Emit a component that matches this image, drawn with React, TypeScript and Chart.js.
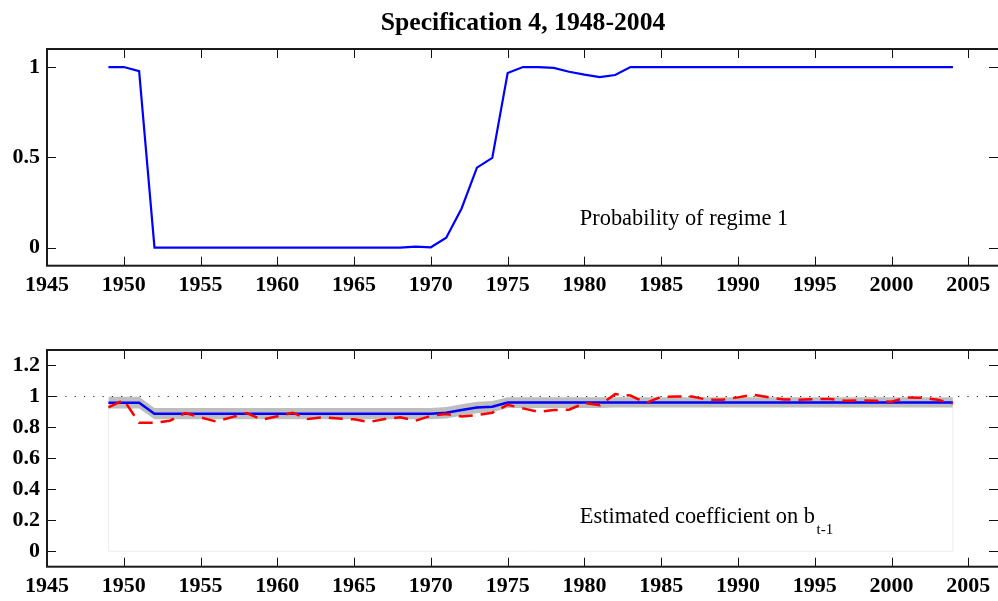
import React, { useEffect, useRef } from 'react';
import { Chart, registerables } from 'chart.js';

Chart.register(...registerables);

// ---------------- data ----------------
const years = [
  1949, 1950, 1951, 1952, 1953, 1954, 1955, 1956, 1957, 1958,
  1959, 1960, 1961, 1962, 1963, 1964, 1965, 1966, 1967, 1968,
  1969, 1970, 1971, 1972, 1973, 1974, 1975, 1976, 1977, 1978,
  1979, 1980, 1981, 1982, 1983, 1984, 1985, 1986, 1987, 1988,
  1989, 1990, 1991, 1992, 1993, 1994, 1995, 1996, 1997, 1998,
  1999, 2000, 2001, 2002, 2003, 2004,
];

const probRegime1 = [
  1.0, 1.0, 0.977, 0.0, 0.0, 0.0, 0.0, 0.0, 0.0, 0.0,
  0.0, 0.0, 0.0, 0.0, 0.0, 0.0, 0.0, 0.0, 0.0, 0.0,
  0.006, 0.002, 0.055, 0.217, 0.443, 0.497, 0.967, 1.0, 1.0, 0.995,
  0.974, 0.958, 0.944, 0.956, 1.0, 1.0, 1.0, 1.0, 1.0, 1.0,
  1.0, 1.0, 1.0, 1.0, 1.0, 1.0, 1.0, 1.0, 1.0, 1.0,
  1.0, 1.0, 1.0, 1.0, 1.0, 1.0,
];

const coefEstimate = [
  0.96, 0.96, 0.96, 0.888, 0.888, 0.888, 0.888, 0.888, 0.888, 0.888,
  0.888, 0.888, 0.888, 0.888, 0.888, 0.888, 0.888, 0.888, 0.888, 0.888,
  0.888, 0.888, 0.895, 0.912, 0.929, 0.934, 0.961, 0.961, 0.961, 0.961,
  0.961, 0.961, 0.961, 0.961, 0.961, 0.961, 0.961, 0.961, 0.961, 0.961,
  0.961, 0.961, 0.961, 0.961, 0.961, 0.961, 0.961, 0.961, 0.961, 0.961,
  0.961, 0.961, 0.961, 0.961, 0.961, 0.961,
];

const coefUpper = [
  0.998, 0.998, 0.998, 0.925, 0.925, 0.925, 0.925, 0.925, 0.925, 0.925,
  0.925, 0.925, 0.925, 0.925, 0.925, 0.925, 0.925, 0.925, 0.925, 0.925,
  0.925, 0.925, 0.932, 0.949, 0.966, 0.970, 0.995, 0.995, 0.995, 0.995,
  0.995, 0.995, 0.995, 0.995, 0.995, 0.995, 0.995, 0.995, 0.995, 0.995,
  0.995, 0.995, 0.995, 0.995, 0.995, 0.995, 0.995, 0.995, 0.995, 0.995,
  0.995, 0.995, 0.995, 0.995, 0.995, 0.995,
];

const coefLower = [
  0.922, 0.922, 0.922, 0.852, 0.852, 0.852, 0.852, 0.852, 0.852, 0.852,
  0.852, 0.852, 0.852, 0.852, 0.852, 0.852, 0.852, 0.852, 0.852, 0.852,
  0.852, 0.852, 0.858, 0.875, 0.892, 0.898, 0.926, 0.926, 0.926, 0.926,
  0.926, 0.926, 0.926, 0.928, 0.928, 0.928, 0.928, 0.928, 0.928, 0.928,
  0.928, 0.928, 0.928, 0.928, 0.928, 0.928, 0.928, 0.928, 0.928, 0.928,
  0.928, 0.928, 0.928, 0.928, 0.928, 0.928,
];

const coefRolling = [
  0.929, 0.977, 0.83, 0.83, 0.843, 0.893, 0.865, 0.838, 0.865, 0.893,
  0.85, 0.872, 0.895, 0.854, 0.865, 0.858, 0.852, 0.835, 0.854, 0.865,
  0.843, 0.875, 0.886, 0.871, 0.88, 0.895, 0.946, 0.923, 0.901, 0.912,
  0.914, 0.957, 0.944, 1.015, 1.006, 0.957, 0.998, 0.999, 1.0, 0.979,
  0.979, 0.994, 1.011, 0.994, 0.981, 0.979, 0.983, 0.983, 0.972, 0.974,
  0.972, 0.966, 0.994, 0.992, 0.979, 0.955,
];

const xTicks = [1945, 1950, 1955, 1960, 1965, 1970, 1975, 1980, 1985, 1990, 1995, 2000, 2005];
const topYTicks = [0, 0.5, 1];
const bottomYTicks = [0, 0.2, 0.4, 0.6, 0.8, 1, 1.2];
const referenceLevel = 1;

const titleText = 'Specification 4, 1948-2004';
const topLabel = 'Probability of regime 1';
const bottomLabel = 'Estimated coefficient on b';
const bottomLabelSub = 't-1';

// ---------------- styling ----------------
const SERIF = '"Liberation Serif", "Times New Roman", Times, serif';
const tickFont = { family: SERIF, weight: 'bold' as const, size: 22 };

const pts = (vals: number[]) => years.map((x, i) => ({ x, y: vals[i] }));

function framePlugin(yTicks: number[]) {
  return {
    id: 'frameTicks',
    afterDraw(chart: any) {
      const { ctx, chartArea: a, scales } = chart;
      const xs = scales.x;
      const ys = scales.y;
      ctx.save();
      ctx.strokeStyle = '#111';
      ctx.lineWidth = 1;
      ctx.beginPath();
      for (const v of xTicks) {
        const px = Math.round(xs.getPixelForValue(v)) + 0.5;
        ctx.moveTo(px, a.bottom);
        ctx.lineTo(px, a.bottom - 9);
        ctx.moveTo(px, a.top);
        ctx.lineTo(px, a.top + 9);
      }
      for (const v of yTicks) {
        const py = Math.round(ys.getPixelForValue(v)) + 0.5;
        ctx.moveTo(a.left, py);
        ctx.lineTo(a.left + 9, py);
        ctx.moveTo(a.right, py);
        ctx.lineTo(a.right - 10, py);
      }
      ctx.stroke();
      ctx.lineWidth = 2;
      ctx.strokeStyle = '#1a1a1a';
      ctx.strokeRect(a.left, a.top, a.right - a.left, a.bottom - a.top);
      ctx.restore();
    },
  };
}

function baseOptions(yMin: number, yMax: number, yTicks: number[]): any {
  return {
    responsive: false,
    animation: false,
    devicePixelRatio: 1,
    layout: { padding: { top: 49, right: 3, left: 0, bottom: 0 } },
    plugins: {
      legend: { display: false },
      tooltip: { enabled: false },
      title: { display: false },
    },
    elements: { point: { radius: 0 }, line: { tension: 0 } },
    scales: {
      x: {
        type: 'linear',
        min: 1945,
        max: 2007,
        grid: { display: false, drawTicks: false, tickLength: 0 },
        border: { display: false },
        afterBuildTicks: (s: any) => {
          s.ticks = xTicks.map((v) => ({ value: v }));
        },
        afterFit: (s: any) => {
          s.height = 34.3;
        },
        ticks: {
          font: tickFont,
          color: '#000',
          padding: 6,
          maxRotation: 0,
          autoSkip: false,
          callback: (v: any) => String(v),
        },
      },
      y: {
        type: 'linear',
        min: yMin,
        max: yMax,
        grid: { display: false, drawTicks: false, tickLength: 0 },
        border: { display: false },
        afterBuildTicks: (s: any) => {
          s.ticks = yTicks.map((v) => ({ value: v }));
        },
        afterFit: (s: any) => {
          s.width = 47;
        },
        ticks: {
          font: tickFont,
          color: '#000',
          padding: 7,
          autoSkip: false,
          callback: (v: any) => String(v),
        },
      },
    },
  };
}

const topTitlePlugin = {
  id: 'topTitle',
  afterDraw(chart: any) {
    const { ctx, chartArea: a } = chart;
    ctx.save();
    ctx.font = `bold 25.7px ${SERIF}`;
    ctx.fillStyle = '#000';
    ctx.textAlign = 'center';
    ctx.textBaseline = 'alphabetic';
    ctx.fillText(titleText, (a.left + a.right) / 2, 29.5);
    ctx.restore();
  },
};

const topLabelPlugin = {
  id: 'topLabel',
  afterDatasetsDraw(chart: any) {
    const { ctx, scales } = chart;
    ctx.save();
    ctx.font = `22.4px ${SERIF}`;
    ctx.fillStyle = '#000';
    ctx.textAlign = 'left';
    ctx.textBaseline = 'alphabetic';
    ctx.fillText(topLabel, scales.x.getPixelForValue(1979.7), scales.y.getPixelForValue(0.125));
    ctx.restore();
  },
};

const bottomExtrasPlugin = {
  id: 'bottomExtras',
  beforeDatasetsDraw(chart: any) {
    const { ctx, scales } = chart;
    const xs = scales.x;
    const ys = scales.y;
    const x0 = xs.getPixelForValue(years[0]);
    const x1 = xs.getPixelForValue(years[years.length - 1]);
    const yZero = ys.getPixelForValue(0);
    ctx.save();
    ctx.strokeStyle = '#ececec';
    ctx.lineWidth = 1;
    ctx.beginPath();
    ctx.moveTo(x0, ys.getPixelForValue(coefLower[0]));
    ctx.lineTo(x0, yZero);
    ctx.lineTo(x1, yZero);
    ctx.lineTo(x1, ys.getPixelForValue(coefLower[coefLower.length - 1]));
    ctx.stroke();
    ctx.restore();
  },
  afterDatasetDraw(chart: any, args: any) {
    if (args.index !== 1) return;
    const { ctx, chartArea: a, scales } = chart;
    const py = Math.round(scales.y.getPixelForValue(referenceLevel)) + 0.5;
    ctx.save();
    ctx.strokeStyle = '#222';
    ctx.lineWidth = 1.2;
    ctx.setLineDash([1.2, 8.1]);
    ctx.beginPath();
    ctx.moveTo(a.left + 9, py);
    ctx.lineTo(a.right, py);
    ctx.stroke();
    ctx.restore();
  },
  afterDatasetsDraw(chart: any) {
    const { ctx, scales } = chart;
    const x = scales.x.getPixelForValue(1979.7);
    const y = scales.y.getPixelForValue(0.181);
    ctx.save();
    ctx.fillStyle = '#000';
    ctx.textAlign = 'left';
    ctx.textBaseline = 'alphabetic';
    ctx.font = `22.4px ${SERIF}`;
    ctx.fillText(bottomLabel, x, y);
    const w = ctx.measureText(bottomLabel).width;
    ctx.font = `15px ${SERIF}`;
    ctx.fillText(bottomLabelSub, x + w + 1.5, y + 10.6);
    ctx.restore();
  },
};

export default function App() {
  const topRef = useRef<HTMLCanvasElement | null>(null);
  const bottomRef = useRef<HTMLCanvasElement | null>(null);

  useEffect(() => {
    document.body.style.margin = '0';
    const top = new Chart(topRef.current as HTMLCanvasElement, {
      type: 'line',
      data: {
        datasets: [
          {
            data: pts(probRegime1),
            borderColor: '#0000ff',
            borderWidth: 2.2,
            fill: false,
          },
        ],
      },
      options: baseOptions(-0.1, 1.1, topYTicks),
      plugins: [framePlugin(topYTicks), topTitlePlugin, topLabelPlugin],
    } as any);

    const bottom = new Chart(bottomRef.current as HTMLCanvasElement, {
      type: 'line',
      data: {
        datasets: [
          {
            data: pts(coefLower),
            borderColor: 'rgba(0,0,0,0)',
            borderWidth: 0,
            fill: false,
            order: 4,
          },
          {
            data: pts(coefUpper),
            borderColor: 'rgba(0,0,0,0)',
            borderWidth: 0,
            backgroundColor: 'rgb(190,190,190)',
            fill: '-1',
            order: 3,
          },
          {
            data: pts(coefEstimate),
            borderColor: '#0000ff',
            borderWidth: 2.5,
            fill: false,
            order: 1,
          },
          {
            data: pts(coefRolling),
            borderColor: '#ff0000',
            borderWidth: 2.5,
            borderDash: [14, 8],
            fill: false,
            order: 0,
          },
        ],
      },
      options: baseOptions(-0.1, 1.3, bottomYTicks),
      plugins: [framePlugin(bottomYTicks), bottomExtrasPlugin],
    } as any);

    return () => {
      top.destroy();
      bottom.destroy();
    };
  }, []);

  return (
    <div
      style={{
        position: 'absolute',
        left: 0,
        top: 0,
        width: 998,
        height: 601,
        overflow: 'hidden',
        background: '#fff',
      }}
    >
      <canvas
        ref={topRef}
        width={1002}
        height={300}
        style={{ position: 'absolute', left: 0, top: 0, width: 1002, height: 300 }}
      />
      <canvas
        ref={bottomRef}
        width={1002}
        height={300}
        style={{ position: 'absolute', left: 0, top: 301, width: 1002, height: 300 }}
      />
    </div>
  );
}
